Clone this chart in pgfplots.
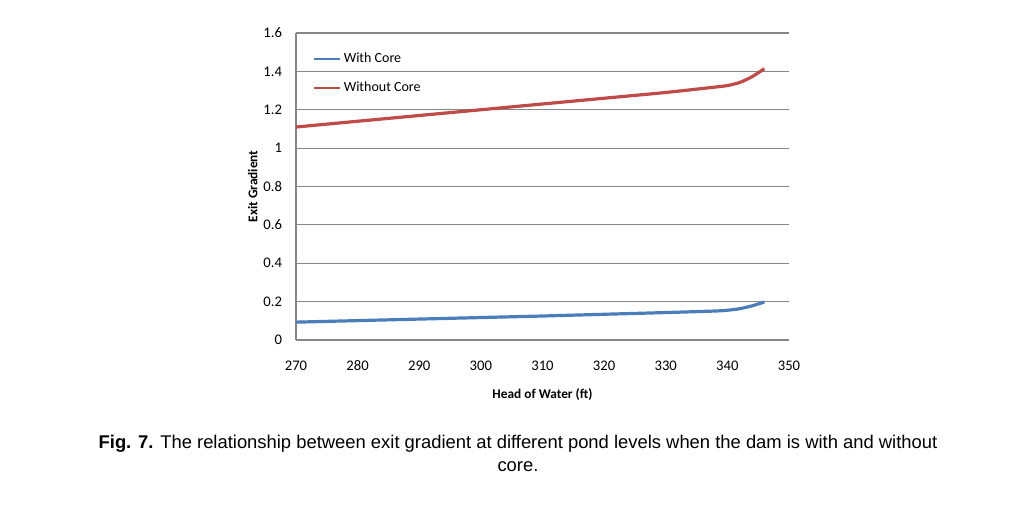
\documentclass[border=0pt]{standalone}
\usepackage{fontspec}
\setmainfont{Carlito}
\newfontfamily\capfont{Liberation Sans}
\usepackage{pgfplots}
\pgfplotsset{compat=1.18}
\definecolor{xblue}{RGB}{74,126,187}
\definecolor{xred}{RGB}{190,75,72}
\definecolor{xgrid}{RGB}{134,134,134}
\begin{document}
\begin{tikzpicture}[x=0.75pt,y=0.75pt]
\path[use as bounding box,fill=white] (0,0) rectangle (1024,527);
\begin{axis}[
  at={(222pt,140.25pt)}, anchor=south west,
  scale only axis, width=369.75pt, height=230.25pt,
  xmin=270, xmax=350, ymin=0, ymax=1.6,
  xtick={270,280,...,350},
  ytick={0,0.2,...,1.6},
  yticklabel style={/pgf/number format/fixed,/pgf/number format/precision=1},
  /pgf/number format/assume math mode=true,
  ticklabel style={font=\fontsize{11}{13}\selectfont},
  xticklabel style={anchor=center, text height=7.5pt, text depth=0pt, yshift=-19.5pt},
  yticklabel style={anchor=east, xshift=-7pt},
  major tick length=0pt,
  ymajorgrids, grid style={xgrid, line width=0.8pt},
  axis line style={xgrid, line width=0.8pt},
  axis x line*=bottom, axis y line*=left,
  x axis line style={-}, y axis line style={-},
  xlabel={\textbf{Head of Water (ft)}},
  ylabel={\textbf{Exit Gradient}},
  label style={font=\fontsize{10}{12}\selectfont},
  xlabel style={at={(axis description cs:0.5,0)}, anchor=center, yshift=-41pt},
  ylabel style={at={(axis description cs:0,0.5)}, anchor=center, rotate=0, yshift=32.5pt},
  legend style={draw=none, fill=none, at={(0.034,0.945)}, anchor=north west,
    font=\fontsize{10.5}{12.5}\selectfont, row sep=9pt, inner sep=0pt},
  legend cell align=left,
  legend image code/.code={\draw[#1, line width=1.6pt] (0pt,0pt) -- (19.5pt,0pt);},
  clip=false,
]
\addplot[xblue, line width=2.4pt, smooth, tension=0.4] coordinates {
 (270,0.093) (280,0.101) (290,0.109) (300,0.117) (310,0.125) (320,0.134) (330,0.143) (338,0.151) (340,0.155) (342,0.163) (344,0.178) (346,0.198)};
\addlegendentry{With Core}
\addplot[xred, line width=2.4pt, smooth, tension=0.4] coordinates {
 (270,1.11) (280,1.14) (290,1.17) (300,1.20) (310,1.23) (320,1.26) (330,1.29) (338,1.318) (340,1.326) (342,1.342) (344,1.372) (346,1.414)};
\addlegendentry{Without Core}
\end{axis}
\node[font=\capfont\fontsize{13.8}{16.5}\selectfont, align=center, anchor=north] at (518,96.5)
 {\textbf{Fig. 7.} The relationship between exit gradient at different pond levels when the dam is with and without\\[1pt] core.};
\end{tikzpicture}
\end{document}
